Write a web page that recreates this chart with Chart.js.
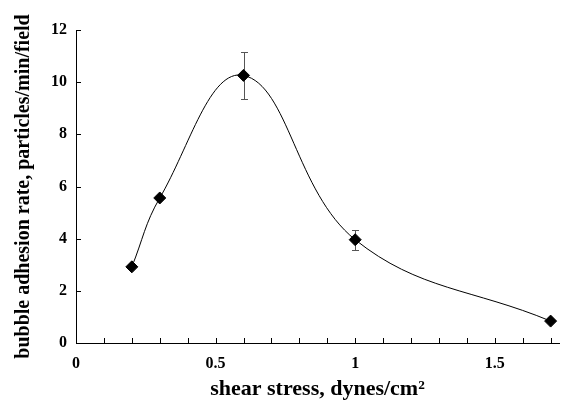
<!DOCTYPE html>
<html>
<head>
<meta charset="utf-8">
<script src="https://cdn.jsdelivr.net/npm/chart.js@4.4.0/dist/chart.umd.min.js"></script>
<style>
  html, body { margin: 0; padding: 0; background: #fff; }
</style>
</head>
<body>
<canvas id="chart" width="566" height="404"></canvas>
<script>
// values
const shearStress = [0.2, 0.3, 0.6, 1.0, 1.7];
const adhesionRate = [2.92, 5.56, 10.26, 3.96, 0.84];
const errPlus = [0, 0, 0.9, 0.38, 0];
const errMinus = [0, 0, 0.9, 0.38, 0];
const xLabelled = [0, 0.5, 1, 1.5];
const xMinorTicks = [0, 0.1, 0.2, 0.3, 0.4, 0.5, 0.6, 0.7, 0.8, 0.9, 1.0, 1.1, 1.2, 1.3, 1.4, 1.5, 1.6, 1.7];
const yTicks = [0, 2, 4, 6, 8, 10, 12];

const serif = '"Liberation Serif", "Times New Roman", serif';

// error bars, drawn under the markers
const errorBars = {
  id: 'errorBars',
  beforeDatasetsDraw(chart) {
    const { ctx, scales: { x, y } } = chart;
    ctx.save();
    ctx.strokeStyle = '#555';
    ctx.lineWidth = 1;
    shearStress.forEach((sx, i) => {
      if (!errPlus[i] && !errMinus[i]) return;
      const px = Math.round(x.getPixelForValue(sx)) + 0.5;
      const top = Math.round(y.getPixelForValue(adhesionRate[i] + errPlus[i])) + 0.5;
      const bot = Math.round(y.getPixelForValue(adhesionRate[i] - errMinus[i])) + 0.5;
      ctx.beginPath();
      ctx.moveTo(px, top); ctx.lineTo(px, bot);
      ctx.moveTo(px - 3.5, top); ctx.lineTo(px + 3.5, top);
      ctx.moveTo(px - 3.5, bot); ctx.lineTo(px + 3.5, bot);
      ctx.stroke();
    });
    ctx.restore();
  }
};

// tick marks pointing into the plot
const innerTicks = {
  id: 'innerTicks',
  afterDraw(chart) {
    const { ctx, chartArea, scales: { x, y } } = chart;
    ctx.save();
    ctx.strokeStyle = '#000';
    ctx.lineWidth = 1;
    ctx.beginPath();
    xMinorTicks.forEach(v => {
      const px = Math.round(x.getPixelForValue(v)) + 0.5;
      ctx.moveTo(px, chartArea.bottom);
      ctx.lineTo(px, chartArea.bottom - 5);
    });
    yTicks.forEach(v => {
      const py = Math.round(y.getPixelForValue(v)) + 0.5;
      ctx.moveTo(chartArea.left, py);
      ctx.lineTo(chartArea.left + 5, py);
    });
    ctx.stroke();
    ctx.restore();
  }
};

new Chart(document.getElementById('chart'), {
  type: 'line',
  data: {
    datasets: [{
      data: shearStress.map((sx, i) => ({ x: sx, y: adhesionRate[i] })),
      borderColor: '#000',
      borderWidth: 1,
      tension: 0.4,
      pointStyle: 'rectRot',
      pointRadius: 6,
      pointBackgroundColor: '#000',
      pointBorderColor: '#000',
      pointBorderWidth: 1
    }]
  },
  options: {
    responsive: false,
    animation: false,
    layout: { padding: { top: 30, right: 0, left: 0, bottom: 0 } },
    plugins: { legend: { display: false }, tooltip: { enabled: false } },
    scales: {
      x: {
        type: 'linear',
        min: 0,
        max: 1.73,
        afterBuildTicks: s => { s.ticks = xLabelled.map(v => ({ value: v })); },
        afterFit: s => { s.height = 61; },
        grid: { display: false, drawTicks: false },
        border: { display: true, color: '#000', width: 1 },
        ticks: {
          padding: 11,
          color: '#000',
          maxRotation: 0,
          font: { family: serif, size: 16, weight: 'bold' },
          callback: v => String(v)
        },
        title: {
          display: true,
          text: 'shear stress, dynes/cm²',
          color: '#000',
          padding: { top: 0, bottom: 1 },
          font: { family: serif, size: 22, weight: 'bold' }
        }
      },
      y: {
        min: 0,
        max: 12,
        afterBuildTicks: s => { s.ticks = yTicks.map(v => ({ value: v })); },
        afterFit: s => { s.width = 76; },
        grid: { display: false, drawTicks: false },
        border: { display: true, color: '#000', width: 1 },
        ticks: {
          padding: 9,
          color: '#000',
          font: { family: serif, size: 16, weight: 'bold' }
        },
        title: {
          display: true,
          text: 'bubble adhesion rate, particles/min/field',
          color: '#000',
          padding: { top: 12, bottom: 0 },
          font: { family: serif, size: 20, weight: 'bold' }
        }
      }
    }
  },
  plugins: [errorBars, innerTicks]
});
</script>
</body>
</html>
